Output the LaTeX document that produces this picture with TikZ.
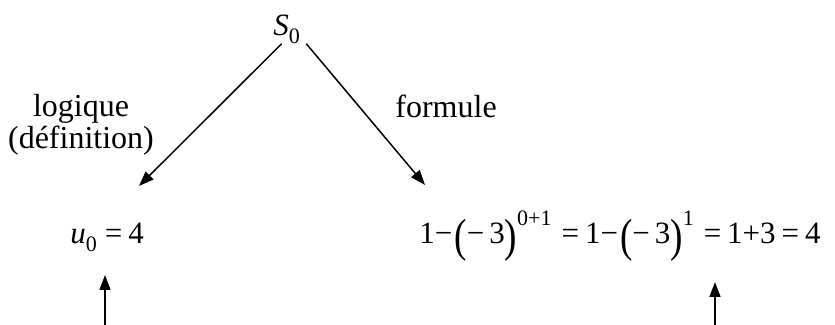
\documentclass[tikz,border=0pt]{standalone}
\usepackage{fontspec}
\setmainfont{Liberation Serif}
\usepackage{graphicx}
\usetikzlibrary{arrows.meta}
% tall brackets, raised and lowered small figures
\newcommand{\bp}[1]{\raisebox{-0.23em}{\scalebox{1.2}[1.5]{#1}}}
\newcommand{\sups}[1]{\raisebox{0.6em}{\fontsize{11}{11}\selectfont #1}}
\newcommand{\subs}[1]{\raisebox{-0.23em}{\fontsize{11}{11}\selectfont #1}}
\begin{document}
\begin{tikzpicture}[x=0.5pt,y=-0.5pt,>={Triangle[length=7.5pt,width=5.5pt]},
  t/.style={inner sep=0pt,anchor=base west,font=\fontsize{15.5}{17}\selectfont},
  lab/.style={t,font=\fontsize{16}{18}\selectfont},
  ln/.style={draw,line width=0.75pt}]
  \useasboundingbox (0,0) rectangle (835,325);
  % top term
  \node[t](s0) at (273,36){\textit{S}\subs{0}};
  % branch labels
  \node[lab,anchor=base](logi) at (81,117){logique};
  \node[lab,anchor=base](defi) at (81,149){(définition)};
  \node[lab](form) at (395,118){formule};
  % results
  \node[t](u0) at (70,244){\textit{u}\subs{0}\kern4pt=\kern3pt4};
  \node[t](calc) at (419,244){1−\kern1pt\bp{(}−\kern2.5pt3\bp{)}\sups{0+1}\kern5pt=\kern3pt1−\kern1pt\bp{(}−\kern2.5pt3\bp{)}\sups{1}\kern5pt=\kern3pt1+3\kern3pt=\kern3pt4};
  \coordinate (ltip) at (139,186);
  \coordinate (rtip) at (425,185);
  \draw[ln,->] ([xshift=-2.5pt]s0.south) -- (ltip);
  \draw[ln,->] ([xshift=3pt]s0.south east) -- (rtip);
  % pointers from below
  \coordinate (lbot) at (105,325);\coordinate (ltop) at (105,275);
  \coordinate (rbot) at (715,325);\coordinate (rtop) at (715,282);
  \draw[ln,->] (lbot) -- (ltop);
  \draw[ln,->] (rbot) -- (rtop);
\end{tikzpicture}
\end{document}
